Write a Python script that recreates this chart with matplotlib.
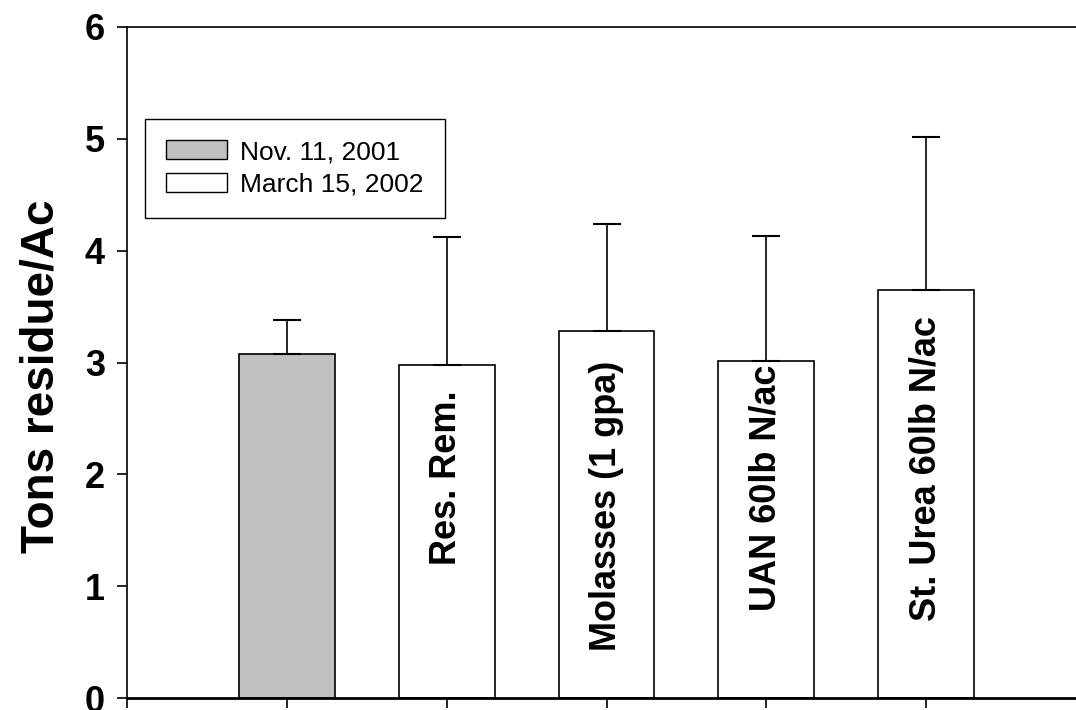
import matplotlib
matplotlib.use("Agg")
import matplotlib.pyplot as plt
from matplotlib.patches import Patch

plt.rcParams['font.family'] = ['Liberation Sans', 'DejaVu Sans']

# Residue measurements (tons/acre) with upper standard deviation
positions = [1, 2, 3, 4, 5]
residue = [3.08, 2.98, 3.28, 3.01, 3.65]
upper_err = [0.30, 1.14, 0.96, 1.12, 1.37]
bar_colors = ['#c0c0c0', 'white', 'white', 'white', 'white']
treatments = ['', 'Res. Rem.', 'Molasses (1 gpa)', 'UAN 60lb N/ac', 'St. Urea 60lb N/ac']
label_y = [0, 1.97, 1.72, 1.88, 2.05]
legend_labels = ['Nov. 11, 2001', 'March 15, 2002']

fig = plt.figure(figsize=(10.76, 7.10), dpi=100)
ax = fig.add_axes([127 / 1076, 12 / 710, 959 / 1076, 671 / 710])

ax.bar(positions, residue, width=0.6, color=bar_colors, edgecolor='black',
       linewidth=1.2, zorder=2)
ax.errorbar(positions, residue, yerr=[[0] * len(upper_err), upper_err],
            fmt='none', ecolor='black', elinewidth=1.2, capsize=10,
            capthick=1.5, zorder=3)

# treatment names written vertically inside the bars
for x, y, name in zip(positions, label_y, treatments):
    if name:
        ax.text(x, y, name, rotation=90, ha='center', va='center',
                fontsize=26, fontweight='bold', zorder=4)

ax.set_xlim(0, 6)
ax.set_ylim(0, 6)
ax.set_xticks(range(0, 7))
ax.set_xticklabels([])
ax.set_yticks(range(0, 7))
ax.tick_params(axis='both', direction='out', length=7, width=1.2, colors='black')
ax.tick_params(axis='y', labelsize=26, pad=9)
for lbl in ax.get_yticklabels():
    lbl.set_fontweight('bold')

ax.spines['right'].set_visible(False)
ax.spines['left'].set_linewidth(1.2)
ax.spines['top'].set_linewidth(1.2)
ax.spines['bottom'].set_linewidth(2)

ax.set_ylabel('Tons residue/Ac', fontsize=33, fontweight='bold')
ax.yaxis.set_label_coords(-0.066, 0.48)

handles = [Patch(facecolor='#c0c0c0', edgecolor='black', linewidth=1),
           Patch(facecolor='white', edgecolor='black', linewidth=1)]
leg = fig.legend(handles, legend_labels, loc='upper left',
                 bbox_to_anchor=(145 / 1076, (710 - 119) / 710),
                 fontsize=19, frameon=True, fancybox=False, framealpha=1,
                 edgecolor='black', handlelength=2.3, handleheight=0.72,
                 handletextpad=0.5, borderpad=0.8, labelspacing=0.32,
                 borderaxespad=0)
leg.get_frame().set_linewidth(1)

fig.savefig('out.png', dpi=100)
